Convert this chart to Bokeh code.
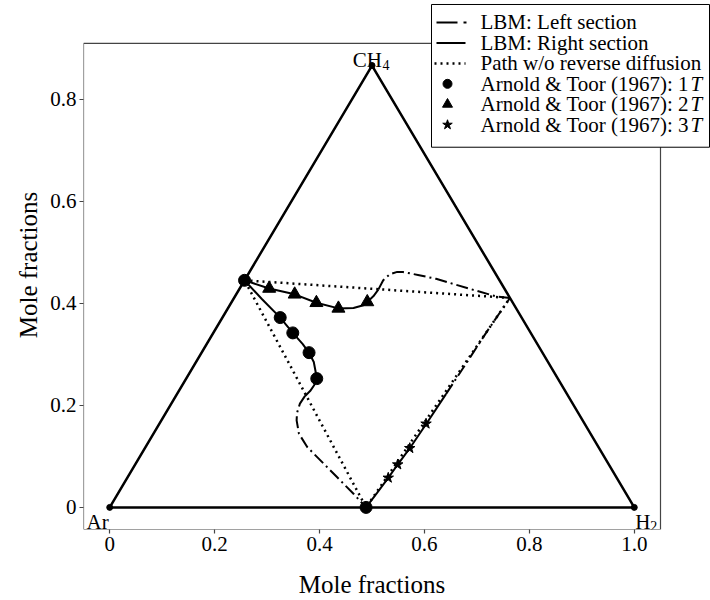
import numpy as np
from bokeh.plotting import figure
from bokeh.models import Range1d, Title
from bokeh.embed import file_html
from bokeh.resources import INLINE
from bokeh.core.properties import value

FONT = "Liberation Serif"

# Ternary triangle vertices: Ar (0,0), H2 (1,0), CH4 (0.5, 0.866)
tri_x = [0.0, 1.0, 0.5, 0.0]
tri_y = [0.0, 0.0, 0.866, 0.0]

# Initial compositions: left (Ar/CH4), right (H2/CH4), bottom (Ar/H2)
pt_x = [0.257, 0.763, 0.4887]
pt_y = [0.445, 0.4105, 0.0]

# Path without reverse diffusion
path_x = [0.257, 0.763, 0.4887, 0.257]
path_y = [0.445, 0.4105, 0.0, 0.445]

# LBM right section (solid)
r1_x = [0.257, 0.29, 0.325, 0.349, 0.368, 0.380, 0.389, 0.394, 0.390, 0.382, 0.372]
r1_y = [0.445, 0.4085, 0.372, 0.342, 0.320, 0.303, 0.285, 0.258, 0.240, 0.228, 0.218]
r2_x = [0.257, 0.304, 0.3526, 0.394, 0.436, 0.4647, 0.4836, 0.491, 0.5025, 0.512]
r2_y = [0.445, 0.429, 0.4176, 0.401, 0.390, 0.3908, 0.396, 0.4026, 0.4137, 0.4268]
r3_x = [0.4887, 0.51, 0.531, 0.549, 0.572, 0.603, 0.641]
r3_y = [0.0, 0.029, 0.058, 0.084, 0.116, 0.163, 0.222]

# LBM left section (dash-dot)
l1_x = [0.372, 0.3626, 0.357, 0.3563, 0.3607, 0.3765, 0.4017, 0.4332, 0.4647, 0.4887]
l1_y = [0.218, 0.2033, 0.185, 0.1706, 0.1445, 0.1183, 0.0922, 0.0595, 0.0268, 0.0]
l2_x = [0.512, 0.5214, 0.534, 0.548, 0.559, 0.59, 0.622, 0.685, 0.736, 0.763]
l2_y = [0.4268, 0.445, 0.457, 0.4615, 0.4614, 0.455, 0.448, 0.4288, 0.4137, 0.4105]
l3_x = [0.641, 0.68, 0.72, 0.763]
l3_y = [0.222, 0.283, 0.346, 0.4105]

# Arnold & Toor (1967) data
t1_x = [0.257, 0.325, 0.349, 0.380, 0.3947, 0.4887]
t1_y = [0.445, 0.372, 0.342, 0.3033, 0.2524, 0.0]
t2_x = [0.304, 0.3526, 0.394, 0.436, 0.491]
t2_y = [0.429, 0.4176, 0.401, 0.390, 0.4026]
t3_x = [0.531, 0.549, 0.572, 0.603]
t3_y = [0.058, 0.084, 0.116, 0.164]

x_ticks = [0, 0.2, 0.4, 0.6, 0.8, 1.0]
x_tick_labels = ["0", "0.2", "0.4", "0.6", "0.8", "1.0"]
y_ticks = [0, 0.2, 0.4, 0.6, 0.8]
y_tick_labels = ["0", "0.2", "0.4", "0.6", "0.8"]

legend_labels = ["LBM: Left section", "LBM: Right section", "Path w/o reverse diffusion",
                 "Arnold & Toor (1967): 1", "Arnold & Toor (1967): 2", "Arnold & Toor (1967): 3"]
legend_italic = ["", "", "", "T", "T", "T"]
legend_kind = ["dashdot", "solid", "dotted", "circle", "triangle", "star"]

W, H = 710, 600
# visible axes box (pixels) and the data limits it shows
BOX_L, BOX_R, BOX_T, BOX_B = 83, 660, 43, 530
bx0, bx1 = -0.05, 1.05
by0, by1 = -0.0433, 0.9093
dx = (bx1 - bx0) / (BOX_R - BOX_L)   # data per pixel
dy = (by1 - by0) / (BOX_B - BOX_T)
# the Bokeh frame spans up to the top and right canvas edges so the legend is not clipped
ML, MR, MT, MB = BOX_L, 0, 0, H - BOX_B
FW, FH = W - ML - MR, H - MT - MB
x0, x1 = bx0, bx0 + FW * dx
y0, y1 = by0, by0 + FH * dy


def X(px):
    return x0 + (px - ML) * dx


def Y(py):
    return y0 + ((MT + FH) - py) * dy


p = figure(width=W, height=H, output_backend="svg", toolbar_location=None,
           x_range=Range1d(x0, x1), y_range=Range1d(y0, y1),
           min_border_left=ML, min_border_right=MR, min_border_top=MT, min_border_bottom=MB)
p.background_fill_color = "white"
p.border_fill_color = "white"
p.xgrid.visible = False
p.ygrid.visible = False
p.outline_line_color = None

NB = "\u00a0"
# x title padded so it is centred on the visible box rather than the extended frame
x_title = "Mole fractions" + NB * 8

for ax, ticks, labels in ((p.xaxis[0], x_ticks, x_tick_labels),
                          (p.yaxis[0], y_ticks, y_tick_labels)):
    ax.ticker = ticks
    ax.major_label_overrides = {t: l for t, l in zip(ticks, labels)}
    ax.minor_tick_line_color = None
    ax.major_tick_in = 0
    ax.major_tick_out = 4
    ax.major_tick_line_color = "#444444"
    ax.major_tick_line_width = 1.2
    ax.axis_line_color = None
    ax.major_label_standoff = 3
    ax.major_label_text_font = FONT
    ax.major_label_text_font_size = "21px"
    ax.major_label_text_color = "black"
    ax.axis_label_text_font = FONT
    ax.axis_label_text_font_size = "25px"
    ax.axis_label_text_font_style = "normal"
    ax.axis_label_text_color = "black"
p.xaxis[0].axis_label = x_title
p.xaxis[0].axis_label_standoff = 17

# y title as a side title, shifted down to the centre of the visible box
box_centre_shift = ((BOX_T + BOX_B) / 2) - (MT + FH / 2)
p.add_layout(Title(text="Mole fractions", align="center", offset=-box_centre_shift,
                   text_font=FONT, text_font_size="25px", text_font_style="normal",
                   text_color="black", standoff=12), "left")

# visible axes box
p.quad(left=[bx0], right=[bx1], bottom=[by0], top=[by1], fill_color=None,
       line_color="#444444", line_width=1.2)

# triangle
p.line(tri_x, tri_y, line_color="black", line_width=2.5)
p.scatter(tri_x[:3], tri_y[:3], size=6, color="black")

# path without reverse diffusion
p.line(path_x, path_y, line_color="black", line_width=2.5, line_dash="2 4")

# LBM left section
for xs, ys in ((l1_x, l1_y), (l2_x, l2_y), (l3_x, l3_y)):
    p.line(xs, ys, line_color="black", line_width=2, line_dash="12 4 2 4")
# LBM right section
for xs, ys in ((r1_x, r1_y), (r2_x, r2_y), (r3_x, r3_y)):
    p.line(xs, ys, line_color="black", line_width=2)

p.scatter(t1_x, t1_y, marker="circle", size=12, color="black")
p.scatter(t2_x, t2_y, marker="triangle", size=13, color="black")
p.scatter(t3_x, t3_y, marker="star", size=11, color="black")

# vertex labels
tf = value(FONT)
p.text([tri_x[0] - 1 * dx], [tri_y[0] - 15 * dy], text=["Ar"], text_font=tf,
       text_font_size="21px", text_align="right", text_baseline="alphabetic", text_color="black")
p.text([tri_x[1] + 1 * dx], [tri_y[1] - 15 * dy], text=["H"], text_font=tf,
       text_font_size="21px", text_align="left", text_baseline="alphabetic", text_color="black")
p.text([tri_x[1] + 16 * dx], [tri_y[1] - 19 * dy], text=["2"], text_font=tf,
       text_font_size="14px", text_align="left", text_baseline="alphabetic", text_color="black")
p.text([tri_x[2] + 10 * dx], [tri_y[2] + 6 * dy], text=["CH"], text_font=tf,
       text_font_size="21px", text_align="right", text_baseline="alphabetic", text_color="black")
p.text([tri_x[2] + 10.5 * dx], [tri_y[2] + 1 * dy], text=["4"], text_font=tf,
       text_font_size="14px", text_align="left", text_baseline="alphabetic", text_color="black")

# legend box (top right, overlapping the axes box corner)
LEG_L, LEG_R, LEG_T, LEG_B = 431, 709, 4, 147
ROW0, ROW_STEP = 22, 20.5
H0, H1, MARK_X, TEXT_X = 436, 465, 450, 480
p.quad(left=[X(LEG_L)], right=[X(LEG_R)], top=[Y(LEG_T)], bottom=[Y(LEG_B)],
       fill_color="white", line_color="black", line_width=1)
for i, (lab, ital, kind) in enumerate(zip(legend_labels, legend_italic, legend_kind)):
    cy = ROW0 + i * ROW_STEP
    if kind == "dashdot":
        p.line([X(H0), X(H1 + 4)], [Y(cy), Y(cy)], line_color="black", line_width=2,
               line_dash="21 6 3 20")
    elif kind == "solid":
        p.line([X(H0), X(H1)], [Y(cy), Y(cy)], line_color="black", line_width=2)
    elif kind == "dotted":
        p.line([X(H0 - 2), X(H1)], [Y(cy), Y(cy)], line_color="black", line_width=2.5,
               line_dash="2 4")
    else:
        sz = {"circle": 9, "triangle": 10, "star": 10}[kind]
        p.scatter([X(MARK_X - 3)], [Y(cy)], marker=kind, size=sz, color="black")
    p.text([X(TEXT_X)], [Y(cy)], text=[lab], text_font=tf, text_font_size="21px",
           text_align="left", text_baseline="middle", text_color="black")
    if ital:
        p.text([X(TEXT_X + 210)], [Y(cy)], text=[ital], text_font=tf, text_font_size="21px",
               text_font_style="italic", text_align="left", text_baseline="middle",
               text_color="black")

open("out.html", "w").write(file_html(p, INLINE))
